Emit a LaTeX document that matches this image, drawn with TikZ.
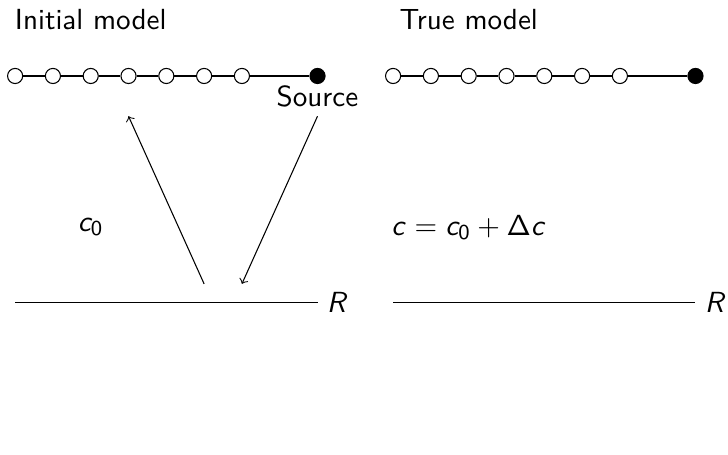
\documentclass[tikz,border=0pt]{standalone}
\usetikzlibrary{calc}
\DeclareMathAlphabet{\mathsfup}{OT1}{cmss}{m}{n}
\DeclareMathAlphabet{\mathsfsl}{OT1}{cmss}{m}{sl}
\tikzset{
  opennode/.style={circle, draw, fill=white, minimum size=0.2cm, inner sep=0pt, line width=0.4pt},
  srcnode/.style={circle, draw, fill=black, minimum size=0.2cm, inner sep=0pt},
  wire/.style={line width=0.4pt},
  ray/.style={->, line width=0.4pt},
  titletext/.style={inner sep=3.33pt},
}
\begin{document}
\begin{tikzpicture}[font=\sffamily\fontsize{10.95}{13.6}\selectfont]
\useasboundingbox (-0.2,1.005) rectangle (9.43,-5.013);
% ---------- left panel: initial model ----------
\node[titletext] (atitle) at (1,0.75) {Initial model};
\foreach \i in {0,...,6} \node[opennode] (a\i) at (\i*0.5,0) {};
\node[srcnode] (a8) at (4,0) {};
\foreach \i/\j in {0/1,1/2,2/3,3/4,4/5,5/6,6/8} \draw[wire] (a\i) -- (a\j);
\node[anchor=north] (src) at (a8.center) {Source};
\node (alab) at (1,-2) {$\mathsfsl{c}_{\mathsfup{0}}$};
\coordinate (aL) at (0,-3);
\coordinate (aR) at (4,-3);
\draw[wire] (aL) -- (aR);
\node[anchor=west] (aRlab) at (aR) {$\mathsfsl{R}$};
\coordinate (upstart) at (2.5,-2.75);
\coordinate (upx) at (1.5,0);
\coordinate (uptip) at (upx |- src.south);
\coordinate (downtip) at (3,-2.75);
\draw[ray] (upstart) -- (uptip);
\draw[ray] (src.south) -- (downtip);
% ---------- right panel: true model ----------
\begin{scope}[xshift=5cm]
\node[titletext] (btitle) at (1,0.75) {True model};
\foreach \i in {0,...,6} \node[opennode] (b\i) at (\i*0.5,0) {};
\node[srcnode] (b8) at (4,0) {};
\foreach \i/\j in {0/1,1/2,2/3,3/4,4/5,5/6,6/8} \draw[wire] (b\i) -- (b\j);
\node (blab) at (1,-2) {$\mathsfsl{c} = \mathsfsl{c}_{\mathsfup{0}} + \mathsfup{\Delta}\mathsfsl{c}$};
\coordinate (bL) at (0,-3);
\coordinate (bR) at (4,-3);
\draw[wire] (bL) -- (bR);
\node[anchor=west] (bRlab) at (bR) {$\mathsfsl{R}$};
\end{scope}
\end{tikzpicture}
\end{document}
